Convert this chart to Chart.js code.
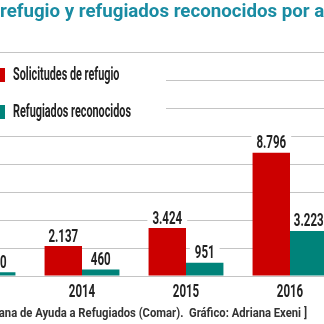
<!DOCTYPE html>
<html>
<head>
<meta charset="utf-8">
<script src="https://cdn.jsdelivr.net/npm/chart.js@4/dist/chart.umd.min.js"></script>
<style>
  html, body { margin: 0; padding: 0; background: #fff; overflow: hidden; }
  body { width: 324px; height: 324px; position: relative; }
  #chart { position: absolute; left: -160px; top: 0; }
</style>
</head>
<body>
<canvas id="chart" width="560" height="324"></canvas>
<script>
// Solicitudes y reconocimientos de refugio en México por año
const years = ['2013', '2014', '2015', '2016'];
const solicitudes = [1296, 2137, 3424, 8796];
const reconocidos = [260, 460, 951, 3223];

const chartTitle = 'Solicitudes de refugio y refugiados reconocidos por año';
const sourceText = '[ Fuente: Comisión Mexicana de Ayuda a Refugiados (Comar).  Gráfico: Adriana Exeni ]';

const RED = '#cc0000';
const TEAL = '#00837a';
const FONT = 'bold 18px Roboto, sans-serif';
const LEGEND_FONT = 'bold 19px Roboto, sans-serif';
const PAGE_X = 160; // canvas starts 160px left of the page

function fmt(n) {
    return String(n).replace(/\B(?=(\d{3})+(?!\d))/g, '.');
}

// condensed look: squeeze the text horizontally around its anchor
function narrowText(ctx, text, x, y, sx, align) {
    ctx.save();
    ctx.translate(x, y);
    ctx.scale(sx, 1);
    ctx.textAlign = align;
    ctx.fillText(text, 0, 0);
    ctx.restore();
}

const NUM_SX = 0.64;

// white boxes behind value labels go under the bars, text goes on top
const valueLabels = {
    id: 'valueLabels',
    beforeDatasetsDraw(chart) {
        const ctx = chart.ctx;
        ctx.save();
        ctx.font = FONT;
        chart.data.datasets.forEach((ds, i) => {
            chart.getDatasetMeta(i).data.forEach((bar, j) => {
                const w = ctx.measureText(fmt(ds.data[j])).width * NUM_SX + 10;
                ctx.fillStyle = '#fff';
                ctx.fillRect(bar.x - w / 2, bar.y - 19, w, 20);
            });
        });
        ctx.restore();
    },
    afterDatasetsDraw(chart) {
        const ctx = chart.ctx;
        ctx.save();
        ctx.font = FONT;
        ctx.fillStyle = '#222';
        ctx.textBaseline = 'middle';
        chart.data.datasets.forEach((ds, i) => {
            chart.getDatasetMeta(i).data.forEach((bar, j) => {
                narrowText(ctx, fmt(ds.data[j]), bar.x, bar.y - 9, NUM_SX, 'center');
            });
        });
        // year labels under each group
        const x = chart.scales.x;
        chart.data.labels.forEach((lab, i) => {
            narrowText(ctx, lab, x.getPixelForValue(i), 292, NUM_SX, 'center');
        });
        ctx.restore();
    }
};

// heading, legend block and source line
const decorations = {
    id: 'decorations',
    afterDraw(chart) {
        const ctx = chart.ctx;
        ctx.save();

        ctx.font = 'bold 18.7px Roboto, sans-serif';
        ctx.fillStyle = '#1a8ca3';
        ctx.textBaseline = 'alphabetic';
        const lead = ctx.measureText('Solicitudes de ').width;
        ctx.fillText(chartTitle, PAGE_X - lead, 17);

        // legend sits on a white panel over the top gridlines
        ctx.fillStyle = '#fff';
        ctx.fillRect(0, 62, PAGE_X + 166, 62);
        const rows = [75, 112];
        ctx.font = LEGEND_FONT;
        ctx.textBaseline = 'middle';
        chart.data.datasets.forEach((ds, i) => {
            ctx.fillStyle = ds.backgroundColor;
            ctx.fillRect(PAGE_X - 8, rows[i] - 7, 13, 14);
            ctx.fillStyle = '#222';
            narrowText(ctx, ds.label, PAGE_X + 13, rows[i], 0.57, 'left');
        });

        ctx.font = 'bold 12.5px Roboto, sans-serif';
        ctx.fillStyle = '#333';
        narrowText(ctx, sourceText, PAGE_X + 307, 314, 0.9, 'right');
        ctx.restore();
    }
};

new Chart(document.getElementById('chart'), {
    type: 'bar',
    data: {
        labels: years,
        datasets: [
            { label: 'Solicitudes de refugio', data: solicitudes, backgroundColor: RED },
            { label: 'Refugiados reconocidos', data: reconocidos, backgroundColor: TEAL }
        ]
    },
    options: {
        responsive: false,
        animation: false,
        devicePixelRatio: 1,
        categoryPercentage: 0.72,
        barPercentage: 1,
        layout: { padding: { top: 52, bottom: 48, left: 86, right: 58 } },
        plugins: {
            legend: { display: false },
            tooltip: { enabled: false }
        },
        scales: {
            x: { display: false },
            y: {
                min: 0,
                max: 16000,
                ticks: { display: false, stepSize: 2000 },
                grid: { color: '#c4c4c4', drawTicks: false },
                border: { display: false }
            }
        }
    },
    plugins: [valueLabels, decorations]
});
</script>
</body>
</html>
